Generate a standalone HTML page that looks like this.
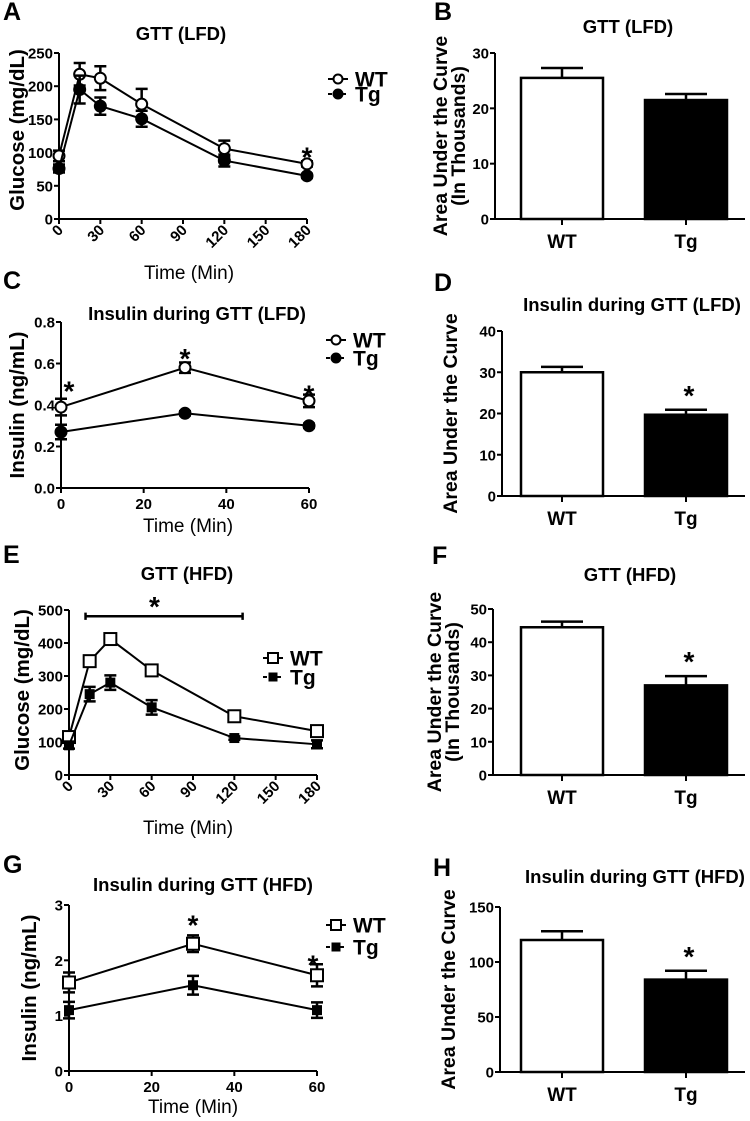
<!DOCTYPE html>
<html><head><meta charset="utf-8"><style>
body{margin:0;background:#fff;}
svg{display:block;font-family:"Liberation Sans",Arial,sans-serif;}
</style></head><body>
<svg id="fig" width="750" height="1121" viewBox="0 0 750 1121"></svg>
<script>
// ---- Panel A (GTT LFD) ----
const timesA=[0,15,30,60,120,180];
const wtA=[95,218,212,173,106,83];
const wtAerr=[8,17,18,23,12,4];
const tgA=[76,195,170,151,88,65];
const tgAerr=[6,21,13,12,9,3];
// ---- Panel C (Insulin LFD) ----
const timesC=[0,30,60];
const wtC=[0.39,0.58,0.42];
const wtCerr=[0.04,0.025,0.03];
const tgC=[0.27,0.36,0.30];
const tgCerr=[0.035,0.01,0.01];
// ---- Panel E (GTT HFD) ----
const timesE=[0,15,30,60,120,180];
const wtE=[115,345,412,317,178,133];
const wtEerr=[8,15,10,10,6,5];
const tgE=[90,245,280,205,112,93];
const tgEerr=[10,22,22,22,5,12];
// ---- Panel G (Insulin HFD) ----
const timesG=[0,30,60];
const wtG=[1.6,2.3,1.73];
const wtGerr=[0.18,0.15,0.2];
const tgG=[1.1,1.55,1.1];
const tgGerr=[0.15,0.17,0.14];
// ---- Bar panels ----
const barCats=["WT","Tg"];
const barB=[25.5,21.5]; const barBerr=[1.8,1.1];
const barD=[30,19.7]; const barDerr=[1.3,1.2];
const barF=[44.5,27]; const barFerr=[1.7,2.8];
const barH=[120,84]; const barHerr=[8,8];
const ticksGlu=[0,50,100,150,200,250];
const ticksTime=[0,30,60,90,120,150,180];
const ticksInsL=[0,0.2,0.4,0.6,0.8];
const ticksInsLlab=["0.0","0.2","0.4","0.6","0.8"];
const ticksT60=[0,20,40,60];
const ticksGluH=[0,100,200,300,400,500];
const ticksInsH=[0,1,2,3];

const NS="http://www.w3.org/2000/svg";
const svg=document.getElementById('fig');
function mk(tag,attrs,parent){const e=document.createElementNS(NS,tag);for(const k in attrs)e.setAttribute(k,attrs[k]);(parent||svg).appendChild(e);return e;}
function txt(s,x,y,size,bold,anchor,parent,rot){const t=mk('text',{x:x,y:y,'font-size':size,'text-anchor':anchor||'middle','font-weight':bold?'bold':'normal',fill:'#000'},parent);if(rot)t.setAttribute('transform',rot);t.textContent=s;return t;}

function linePanel(o){
  const g=mk('g',{});
  
  
  const sx=v=>o.x0+(v/o.xmax)*(o.x1-o.x0);
  const sy=v=>o.y0-(v/o.ymax)*(o.y0-o.ytop);
  const ax=mk('path',{d:`M${o.x0} ${o.ytop}V${o.y0}H${o.x1}`,stroke:'#000','stroke-width':2,fill:'none'},g);
  
  
  o.yt.forEach((v,i)=>{mk('line',{x1:o.x0-5,x2:o.x0,y1:sy(v),y2:sy(v),stroke:'#000','stroke-width':2},g);
    const t=txt(o.ytl?o.ytl[i]:String(v),o.x0-6,sy(v)+5.5,15,true,'end',g);
    
    });
  o.xt.forEach(v=>{mk('line',{x1:sx(v),x2:sx(v),y1:o.y0,y2:o.y0+5,stroke:'#000','stroke-width':2},g);
    let t;
    if(o.rot){t=txt(String(v),sx(v)+5,o.y0+12,15,true,'end',g,`rotate(-45 ${sx(v)+5} ${o.y0+12})`);}
    else t=txt(String(v),sx(v),o.y0+21,15,true,'middle',g);
    
    });
  [[o.wt,o.wte,false],[o.tg,o.tge,true]].forEach(([vals,errs,filled],si)=>{
    const pts=vals.map((v,i)=>[sx(o.xs[i]),sy(v)]);
    const ln=mk('polyline',{points:pts.map(p=>p.join(',')).join(' '),stroke:'#000','stroke-width':2,fill:'none'},g);
    
    
    vals.forEach((v,i)=>{const x=sx(o.xs[i]);
      const e1=sy(v+errs[i]),e2=sy(v-errs[i]);
      mk('path',{d:`M${x} ${e1}V${e2}M${x-6} ${e1}H${x+6}M${x-6} ${e2}H${x+6}`,stroke:'#000','stroke-width':2.5},g);
      let m;
      if(o.sq) m=mk('rect',{x:x-(filled?4:6),y:sy(v)-(filled?4:6),width:filled?8:12,height:filled?8:12,fill:filled?'#000':'#fff',stroke:'#000','stroke-width':2},g);
      else m=mk('circle',{cx:x,cy:sy(v),r:5.5,fill:filled?'#000':'#fff',stroke:'#000','stroke-width':2},g);
      
      });
  });
  const ti=txt(o.title,o.tx,o.ty,18.5,true,'middle',g);
  
  
  const yl=txt(o.ylab,o.ylx,o.yly,20.5,true,'middle',g,`rotate(-90 ${o.ylx} ${o.yly})`);
  
  
  const xl=txt('Time (Min)',o.xlx,o.xly,19,false,'middle',g);
  
  
  const le=txt(o.letter,o.lx,o.ly,25,true,'start',g);
  
  
  [['WT',false,o.legY1],['Tg',true,o.legY2]].forEach(([n,f,y])=>{
    const lg=mk('g',{},g);
    
    
    const lx=o.legX;
    mk('line',{x1:lx-10,x2:lx+10,y1:y,y2:y,stroke:'#000','stroke-width':2,'stroke-dasharray':f?'4,3':'none'},lg);
    if(o.sq) mk('rect',{x:lx-(f?3.5:5),y:y-(f?3.5:5),width:f?7:10,height:f?7:10,fill:f?'#000':'#fff',stroke:'#000','stroke-width':2},lg);
    else mk('circle',{cx:lx,cy:y,r:4.5,fill:f?'#000':'#fff',stroke:'#000','stroke-width':2},lg);
    txt(n,lx+17,y+7.5,21,true,'start',lg);
  });
  (o.stars||[]).forEach(s=>{const st=txt('*',sx(s[0])+(s[2]||0),sy(s[1])+14,28,true,'middle',g);
    
    });
  return {g,sx,sy};
}

function barPanel(o){
  const g=mk('g',{});
  
  
  const sy=v=>o.y0-(v/o.ymax)*(o.y0-o.ytop);
  const ax=mk('path',{d:`M${o.x0} ${o.ytop}V${o.y0}H745`,stroke:'#000','stroke-width':2,fill:'none'},g);
  
  
  o.yt.forEach(v=>{mk('line',{x1:o.x0-5,x2:o.x0,y1:sy(v),y2:sy(v),stroke:'#000','stroke-width':2},g);
    const t=txt(String(v),o.x0-6,sy(v)+5.5,15,true,'end',g);
    
    });
  const lefts=[521,645];
  o.vals.forEach((v,i)=>{const l=lefts[i],w=82,cx=l+w/2;
    const et=sy(v+o.errs[i]);
    mk('path',{d:`M${cx} ${sy(v)}V${et}M${cx-21} ${et}H${cx+21}`,stroke:'#000','stroke-width':2.5},g);
    const r=mk('rect',{x:l,y:sy(v),width:w,height:o.y0-sy(v),fill:i?'#000':'#fff',stroke:'#000','stroke-width':2.5},g);
    
    
    mk('line',{x1:cx,x2:cx,y1:o.y0,y2:o.y0+6,stroke:'#000','stroke-width':2},g);
    const t=txt(barCats[i],cx,o.y0+29,19,true,'middle',g);
    
    
    if(i&&o.star){const st=txt('*',cx+3,et-5,28,true,'middle',g);
      
      }
  });
  const ti=txt(o.title,o.tx,o.ty,18.5,true,'middle',g);
  
  
  const mid=(o.y0+o.ytop)/2;
  const l1=txt('Area Under the Curve',o.ylx,mid,19.5,true,'middle',g,`rotate(-90 ${o.ylx} ${mid})`);
  
  
  if(o.two){const l2=txt('(In Thousands)',o.ylx+18,mid,19.5,true,'middle',g,`rotate(-90 ${o.ylx+18} ${mid})`);
    
    }
  const le=txt(o.letter,o.lx,o.ly,25,true,'start',g);
  
  
}

linePanel({name:'panel-a-gtt-lfd',x0:59,x1:307,xmax:180,y0:219,ytop:53,ymax:250,xs:timesA,wt:wtA,wte:wtAerr,tg:tgA,tge:tgAerr,
  yt:ticksGlu,xt:ticksTime,rot:true,title:'GTT (LFD)',tx:181,ty:40,ylab:'Glucose (mg/dL)',ylx:24,yly:130,xlx:189,xly:279,
  letter:'A',lx:3,ly:20,legX:338,legY1:79,legY2:94,stars:[[180,100,0]]});
linePanel({name:'panel-c-insulin-lfd',x0:61,x1:309,xmax:60,y0:488,ytop:322,ymax:0.8,xs:timesC,wt:wtC,wte:wtCerr,tg:tgC,tge:tgCerr,
  yt:ticksInsL,ytl:ticksInsLlab,xt:ticksT60,rot:false,title:'Insulin during GTT (LFD)',tx:197,ty:320,ylab:'Insulin (ng/mL)',ylx:24,yly:405,xlx:188,xly:532,
  letter:'C',lx:3,ly:289,legX:336,legY1:340,legY2:358,stars:[[0,0.49,8],[30,0.645,0],[60,0.47,0]]});
const E=linePanel({name:'panel-e-gtt-hfd',x0:69,x1:317,xmax:180,y0:775,ytop:610,ymax:500,xs:timesE,wt:wtE,wte:wtEerr,tg:tgE,tge:tgEerr,
  yt:ticksGluH,xt:ticksTime,rot:true,title:'GTT (HFD)',tx:187,ty:580,ylab:'Glucose (mg/dL)',ylx:29,yly:690,xlx:188,xly:834,
  letter:'E',lx:3,ly:563,legX:273,legY1:658,legY2:677,sq:true,stars:[[62,525,0]]});
// significance bracket in E
const br=mk('path',{d:`M${E.sx(12)} ${E.sy(470)}V${E.sy(492)}M${E.sx(12)} ${E.sy(481)}H${E.sx(126)}M${E.sx(126)} ${E.sy(470)}V${E.sy(492)}`,stroke:'#000','stroke-width':2.5,fill:'none'},E.g);


linePanel({name:'panel-g-insulin-hfd',x0:69,x1:317,xmax:60,y0:1071,ytop:905,ymax:3,xs:timesG,wt:wtG,wte:wtGerr,tg:tgG,tge:tgGerr,
  yt:ticksInsH,xt:ticksT60,rot:false,title:'Insulin during GTT (HFD)',tx:203,ty:891,ylab:'Insulin (ng/mL)',ylx:36,yly:988,xlx:193,xly:1113,
  letter:'G',lx:3,ly:873,legX:336,legY1:925,legY2:947,sq:true,stars:[[30,2.72,0],[60,2.0,-4]]});

barPanel({name:'panel-b-auc-gtt-lfd',x0:495,y0:219,ytop:53,ymax:30,yt:[0,10,20,30],vals:barB,errs:barBerr,title:'GTT (LFD)',tx:628,ty:33,ylx:447,two:true,letter:'B',lx:434,ly:20,star:false});
barPanel({name:'panel-d-auc-insulin-lfd',x0:502,y0:496,ytop:331,ymax:40,yt:[0,10,20,30,40],vals:barD,errs:barDerr,title:'Insulin during GTT (LFD)',tx:632,ty:311,ylx:457,two:false,letter:'D',lx:434,ly:291,star:true});
barPanel({name:'panel-f-auc-gtt-hfd',x0:493,y0:775,ytop:609,ymax:50,yt:[0,10,20,30,40,50],vals:barF,errs:barFerr,title:'GTT (HFD)',tx:630,ty:581,ylx:441,two:true,letter:'F',lx:432,ly:564,star:true});
barPanel({name:'panel-h-auc-insulin-hfd',x0:500,y0:1072,ytop:907,ymax:150,yt:[0,50,100,150],vals:barH,errs:barHerr,title:'Insulin during GTT (HFD)',tx:635,ty:883,ylx:455,two:false,letter:'H',lx:433,ly:876,star:true});
</script>
</body></html>
